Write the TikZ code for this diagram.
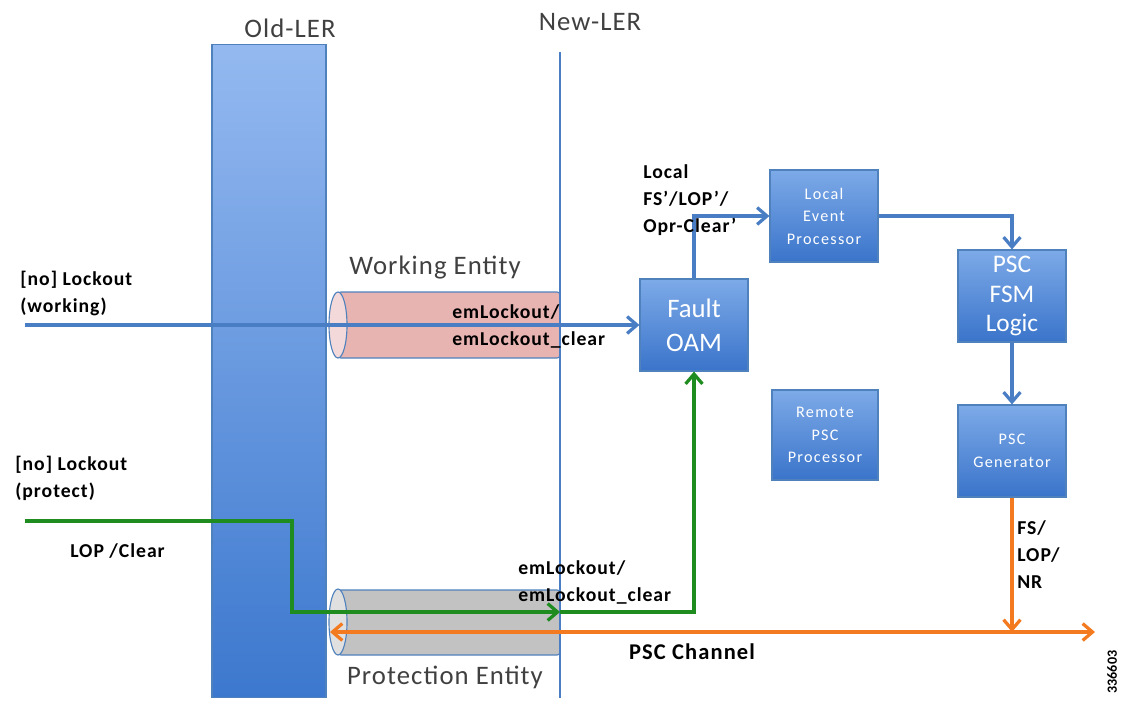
\documentclass[tikz,border=0pt]{standalone}
\usepackage{fontspec}
\setmainfont{Carlito}
\usetikzlibrary{shadows, arrows.meta}
\definecolor{boxtop}{HTML}{7DAAE8}
\definecolor{boxbot}{HTML}{3A74CA}
\definecolor{boxline}{HTML}{4F81BD}
\definecolor{coltop}{HTML}{94B9F0}
\definecolor{colbot}{HTML}{3C78CE}
\definecolor{linkblue}{HTML}{4A7EC4}
\definecolor{linkgreen}{HTML}{1E8C1E}
\definecolor{linkorange}{HTML}{F47A20}
\definecolor{tubepink}{HTML}{E8B4B2}
\definecolor{tubegray}{HTML}{C2C2C2}
\begin{document}
\begin{tikzpicture}[x=0.025cm, y=-0.025cm,
    >={Straight Barb[length=7pt, width=12pt]},
    link/.style={line width=2.3pt},
    block/.style={draw=boxline, line width=0.8pt, top color=boxtop, bottom color=boxbot, text=white, align=center,
        minimum width=2.7cm, minimum height=2.3cm, drop shadow={opacity=0.25, shadow xshift=1pt, shadow yshift=-1pt}},
    small/.style={font=\addfontfeatures{LetterSpace=8}\fontsize{11.5}{16}\selectfont},
    lbl/.style={font=\addfontfeatures{LetterSpace=5}\bfseries\fontsize{14}{19}\selectfont, align=left, anchor=base west, inner sep=0pt},
    title/.style={font=\addfontfeatures{LetterSpace=4}\fontsize{19}{22}\selectfont, text=black!75},
    tube/.style={draw=boxline, line width=0.8pt}]
    \useasboundingbox (0,0) rectangle (1126,706);

    % Routers
    \node[draw=boxline, line width=0.8pt, top color=coltop, bottom color=colbot, minimum width=2.85cm, minimum height=16.3cm, inner sep=0pt] (oldler) at (269,371) {};
    \node[title] (oldlbl) at (290,28) {Old-LER};
    \coordinate (newtop) at (560,52);
    \coordinate (newbot) at (560,698);
    \node[title] (newlbl) at (590,22) {New-LER};

    % Entities
    \draw[tube, fill=tubepink, rounded corners=2pt] (338,292) rectangle (560,358);
    \draw[tube, fill=tubepink!50] (338,325) ellipse [x radius=9, y radius=33];
    \node[title] (work) at (435,268) {Working Entity};
    \draw[tube, fill=tubegray, rounded corners=2pt] (338,590) rectangle (560,655);
    \draw[tube, fill=tubegray!50] (338,622) ellipse [x radius=9, y radius=33];
    \node[title] (prot) at (445,677) {Protection Entity};
    \draw[linkblue, line width=1.8pt] (newtop) -- (newbot);

    % Blocks
    \node[block, font=\fontsize{19}{24}\selectfont] (fault) at (694,325) {Fault\\OAM};
    \node[block, small] (lep) at (824,216) {Local\\Event\\Processor};
    \node[block, font=\fontsize{18}{21}\selectfont] (fsm) at (1012,296) {PSC\\FSM\\Logic};
    \node[block, small, minimum width=2.65cm, minimum height=2.25cm] (remote) at (825,435) {Remote\\PSC\\Processor};
    \node[block, small] (gen) at (1012,451) {PSC\\Generator};

    % Connections
    \coordinate (workin) at (25,325);
    \coordinate (protin) at (25,521);
    \coordinate (protend) at (560,612);
    \coordinate (pscleft) at (330,632);
    \coordinate (pscright) at (1095,632);
    \draw[link, ->, linkblue] (workin) -- (fault.west);
    \draw[link, ->, linkblue] (fault.north) |- (lep.west);
    \draw[link, ->, linkblue] (lep.east) -| (fsm.north);
    \draw[link, ->, linkblue] (fsm.south) -- (gen.north);
    \draw[link, ->, linkgreen] (protin) -- (292,521) -- (292,612) -- (protend);
    \draw[link, ->, linkgreen] (protend) -| (fault.south);
    \draw[link, <->, linkorange] (pscleft) -- (pscright);
    \draw[link, ->, linkorange] (gen.south) -- (gen.south |- pscleft);

    % Labels
    \node[lbl] (l1) at (20,312) {[no] Lockout\\(working)};
    \node[lbl] (l2) at (452,345) {emLockout/\\emLockout\_clear};
    \node[lbl] (l3) at (15,497) {[no] Lockout\\(protect)};
    \node[lbl] (l4) at (70,557) {LOP /Clear};
    \node[lbl] (l5) at (518,601) {emLockout/\\emLockout\_clear};
    \node[lbl] (l6) at (643,232) {Local\\FS’/LOP’/\\Opr-Clear’};
    \node[lbl] (l7) at (1017,588) {FS/\\LOP/\\NR};
    \node[lbl, anchor=center, font=\addfontfeatures{LetterSpace=5}\bfseries\fontsize{16}{19}\selectfont] (l8) at (692,652) {PSC Channel};
    \node[font=\bfseries\fontsize{10}{12}\selectfont, rotate=90] (fig) at (1112,672) {336603};
\end{tikzpicture}
\end{document}
